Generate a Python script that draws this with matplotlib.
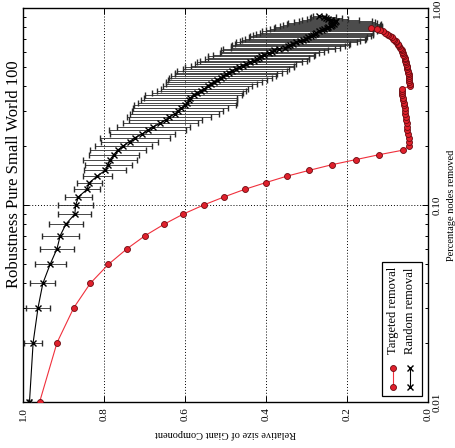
import matplotlib
matplotlib.use("Agg")
import matplotlib.pyplot as plt
from matplotlib.patches import Rectangle
from matplotlib.ticker import FixedLocator, LogLocator, NullFormatter

plt.rcParams["font.family"] = ["Liberation Serif", "DejaVu Serif"]

# targeted removal: fraction of nodes removed -> relative giant component size
targeted_removed = [round(0.01 * i, 2) for i in range(1, 80)]
targeted_size = [
    0.959, 0.916, 0.875, 0.834, 0.789, 0.743, 0.698, 0.651, 0.604, 0.554,
    0.503, 0.453, 0.400, 0.349, 0.293, 0.238, 0.178, 0.121, 0.061,
    0.046, 0.047, 0.048, 0.050, 0.051, 0.052, 0.053, 0.054, 0.055, 0.056,
    0.057, 0.058, 0.059, 0.060, 0.061, 0.062, 0.063, 0.063, 0.064, 0.065,
    0.045, 0.045, 0.046, 0.046, 0.047, 0.047, 0.048, 0.049, 0.050, 0.051,
    0.052, 0.053, 0.054, 0.055, 0.056, 0.057, 0.058, 0.059, 0.061, 0.062,
    0.063, 0.065, 0.067, 0.069, 0.071, 0.073, 0.075, 0.078, 0.080, 0.083,
    0.086, 0.090, 0.094, 0.098, 0.102, 0.106, 0.111, 0.118, 0.127, 0.140,
]

# random removal (mean and spread over runs)
random_removed = [round(0.01 * i, 2) for i in range(1, 92)]
random_size = [
    0.984, 0.975, 0.963, 0.951, 0.933, 0.916, 0.908, 0.894, 0.872, 0.870,
    0.863, 0.842, 0.836, 0.817, 0.797, 0.790, 0.785, 0.776, 0.766, 0.752,
    0.737, 0.723, 0.705, 0.692, 0.678, 0.661, 0.648, 0.640, 0.625, 0.618,
    0.611, 0.600, 0.594, 0.590, 0.587, 0.579, 0.570, 0.560, 0.552, 0.544,
    0.535, 0.528, 0.520, 0.512, 0.505, 0.498, 0.492, 0.484, 0.474, 0.466,
    0.458, 0.450, 0.440, 0.430, 0.422, 0.418, 0.412, 0.404, 0.392, 0.384,
    0.380, 0.368, 0.352, 0.346, 0.340, 0.334, 0.325, 0.316, 0.308, 0.302,
    0.296, 0.290, 0.285, 0.280, 0.276, 0.268, 0.262, 0.256, 0.250, 0.246,
    0.240, 0.238, 0.232, 0.236, 0.230, 0.228, 0.240, 0.248, 0.252, 0.258,
    0.268,
]
random_err = [
    0.004, 0.023, 0.029, 0.031, 0.038, 0.042, 0.046, 0.041, 0.041, 0.044,
    0.034, 0.031, 0.030, 0.036, 0.052, 0.058, 0.066, 0.062, 0.069, 0.070,
    0.071, 0.086, 0.080, 0.095, 0.090, 0.092, 0.090, 0.104, 0.110, 0.113,
    0.118, 0.125, 0.122, 0.118, 0.115, 0.120, 0.112, 0.110, 0.108, 0.110,
    0.112, 0.118, 0.122, 0.128, 0.130, 0.126, 0.132, 0.135, 0.130, 0.134,
    0.128, 0.125, 0.130, 0.132, 0.128, 0.124, 0.130, 0.126, 0.122, 0.128,
    0.132, 0.138, 0.135, 0.140, 0.145, 0.142, 0.150, 0.148, 0.152, 0.150,
    0.146, 0.150, 0.148, 0.145, 0.140, 0.142, 0.138, 0.135, 0.130, 0.132,
    0.126, 0.120, 0.115, 0.110, 0.100, 0.090, 0.070, 0.050, 0.040, 0.030,
    0.016,
]

size_ticks = [1.0, 0.8, 0.6, 0.4, 0.2, 0.0]
size_labels = ["1.0", "0.8", "0.6", "0.4", "0.2", "0.0"]
removed_ticks = [0.01, 0.1, 1.0]
removed_labels = ["0.01", "0.10", "1.00"]

fig = plt.figure(figsize=(4.55, 4.48), dpi=100)
ax = fig.add_axes([23 / 455, 1 - 402 / 448, 405 / 455, 394 / 448])

ax.errorbar(random_size, random_removed, xerr=random_err, fmt="-x",
            color="black", ecolor="#2a2a2a", elinewidth=0.6, lw=0.8,
            capsize=2.2, capthick=0.7, ms=4.5, mew=1.0, zorder=3)
ax.plot(targeted_size, targeted_removed, "-o", color="#f0303c", lw=0.8,
        ms=4.3, mfc="#e0202c", mec="#6a0a10", mew=0.6, zorder=4)

ax.set_yscale("log")
ax.set_xlim(1.0, 0.0)
ax.set_ylim(0.01, 1.0)

ax.xaxis.set_major_locator(FixedLocator(size_ticks))
ax.set_xticklabels(size_labels, rotation=90, fontsize=8)
ax.yaxis.tick_right()
ax.yaxis.set_major_locator(FixedLocator(removed_ticks))
ax.yaxis.set_minor_locator(LogLocator(base=10, subs=range(2, 10)))
ax.yaxis.set_minor_formatter(NullFormatter())
ax.set_yticklabels(removed_labels, rotation=90, va="center", fontsize=8)
ax.tick_params(which="both", direction="in", top=True, bottom=True,
               left=True, right=True, width=0.7)
ax.tick_params(which="major", length=4)
ax.tick_params(which="minor", length=2.5)

ax.grid(True, which="major", ls=(0, (1, 2)), color="black", lw=0.7)
for s in ax.spines.values():
    s.set_linewidth(1.0)

ax.set_xlabel("Relative size of Giant Component", rotation=180, fontsize=7.5,
              labelpad=6)
ax.yaxis.set_label_position("right")
ax.set_ylabel("Percentage nodes removed", rotation=90, fontsize=7.5,
              labelpad=4)
fig.text(14 / 455, 1 - 174 / 448, "Robustness Pure Small World 100",
         rotation=90, ha="center", va="center", fontsize=12)

# legend drawn by hand, turned like the rest of the plot
tr = ax.transAxes
ax.add_patch(Rectangle((0.886, 0.015), 0.099, 0.340, transform=tr,
                       fill=True, fc="white", ec="black", lw=0.9, zorder=6))
ax.plot([0.913, 0.913], [0.039, 0.086], "-o", color="#f0303c", lw=0.8,
        ms=4.3, mfc="#e0202c", mec="#6a0a10", mew=0.6, transform=tr,
        zorder=7, clip_on=False)
ax.plot([0.956, 0.956], [0.039, 0.086], "-x", color="black", lw=0.8,
        ms=4.5, mew=1.0, transform=tr, zorder=7, clip_on=False)
ax.text(0.913, 0.122, "Targeted removal", transform=tr, rotation=90,
        ha="center", va="bottom", fontsize=9, zorder=8)
ax.text(0.956, 0.122, "Random removal", transform=tr, rotation=90,
        ha="center", va="bottom", fontsize=9, zorder=8)

fig.savefig("out.png", dpi=100)
